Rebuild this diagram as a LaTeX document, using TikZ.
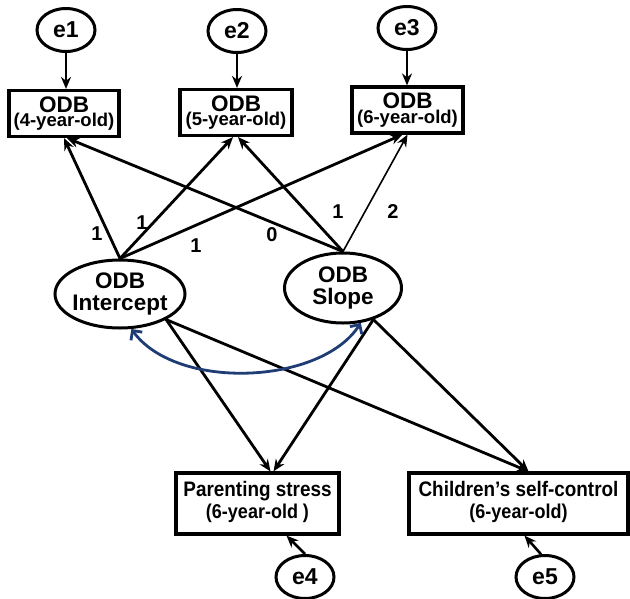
\documentclass[tikz,border=0pt]{standalone}
\usepackage{fontspec}
\setmainfont{Liberation Sans}
\newfontfamily\narrowsans[FakeStretch=0.9]{Liberation Sans}
\usetikzlibrary{arrows.meta,shapes.geometric}
\definecolor{navy}{HTML}{1F3C74}
\begin{document}
\begin{tikzpicture}[x=1pt,y=-1pt,
  errnode/.style={ellipse,draw,line width=3pt,minimum width=58pt,minimum height=43pt,inner sep=0pt,font=\fontsize{23}{23}\selectfont\bfseries},
  obsbox/.style={rectangle,draw,line width=3.2pt,minimum width=110pt,minimum height=46pt,inner sep=0pt,align=center,font=\bfseries},
  latent/.style={ellipse,draw,line width=3pt,inner ysep=0pt,inner xsep=-3pt,align=center,font=\fontsize{22.5}{21.5}\selectfont\bfseries},
  outbox/.style={rectangle,draw,line width=3.2pt,minimum height=61pt,inner sep=0pt,align=center,font=\narrowsans\bfseries},
  conn/.style={line width=2.8pt,-{Stealth[length=12pt,width=10pt]}},
  coef/.style={font=\fontsize{20}{20}\selectfont\bfseries,inner sep=0pt},
  covarc/.style={navy,line width=2.8pt,{Straight Barb[length=7pt,width=14pt]}-{Straight Barb[length=7pt,width=14pt]}}
]
\useasboundingbox (0,0) rectangle (630,598);

% error terms
\node[errnode] (e1) at (66,30) {e1};
\node[errnode] (e2) at (237,31) {e2};
\node[errnode] (e3) at (407,28) {e3};
\node[errnode] (e4) at (305,577) {e4};
\node[errnode] (e5) at (545,577) {e5};

% observed ODB
\node[obsbox] (o4) at (64,113.5) {\fontsize{22.5}{19}\selectfont ODB\\\fontsize{18.5}{19}\selectfont (4-year-old)};
\node[obsbox,minimum width=112pt] (o5) at (236,112.5) {\fontsize{22.5}{19}\selectfont ODB\\\fontsize{18.5}{19}\selectfont (5-year-old)};
\node[obsbox,minimum width=111pt] (o6) at (407.5,110) {\fontsize{22.5}{19}\selectfont ODB\\\fontsize{18.5}{19}\selectfont (6-year-old)};

% latent
\node[latent,minimum width=130pt,minimum height=68pt] (li) at (120,294) {ODB\\Intercept};
\node[latent,minimum width=117pt,minimum height=70pt] (ls) at (343,288) {ODB\\Slope};

% outcomes
\node[outbox,minimum width=163pt] (ps) at (257.5,503.5) {\fontsize{21}{21}\selectfont\strut Parenting stress\\\fontsize{20}{21}\selectfont\strut (6-year-old )};
\node[outbox,minimum width=219pt] (cs) at (518.5,503.5) {\fontsize{21}{21}\selectfont\strut Children’s self-control\\\fontsize{20}{21}\selectfont\strut (6-year-old)};

% error arrows
\draw[conn] (e1.south) -- (e1.south |- o4.north);
\draw[conn] (e2.south) -- (e2.south |- o5.north);
\draw[conn] (e3.south) -- (e3.south |- o6.north);
\draw[conn,line width=2.6pt] (e4.north) -- ([xshift=29pt]ps.south);
\draw[conn,line width=2.6pt] (e5.100) -- ([xshift=6pt]cs.south);

% loadings
\draw[conn] (li.north) -- (o4.south);
\draw[conn] (li.north) -- ([xshift=-3pt]o5.south);
\draw[conn] (li.north) -- ([xshift=-5pt]o6.south);
\draw[conn] (ls.north) -- ([xshift=3pt]o4.south);
\draw[conn] (ls.north) -- ([xshift=2pt]o5.south);
\draw[conn,line width=1.6pt] (ls.north) -- (o6.south);

% coefficients
\node[coef] (c1) at (97,234) {1};
\node[coef] (c2) at (142,223) {1};
\node[coef] (c3) at (196,246) {1};
\node[coef] (c4) at (272,235) {0};
\node[coef] (c5) at (338,212) {1};
\node[coef] (c6) at (393,212) {2};

% structural paths
\draw[conn] (li.-29) -- ([xshift=13pt]ps.north);
\draw[conn] (ls.-46) -- ([xshift=16pt]ps.north);
\draw[conn] (li.-29) -- ([xshift=10pt]cs.north);
\draw[conn] (ls.-46) -- ([xshift=10pt]cs.north);

% covariance
\draw[covarc] (li.-72) .. controls +(45,62) and +(-40,62) .. (ls.-63);
\end{tikzpicture}
\end{document}
